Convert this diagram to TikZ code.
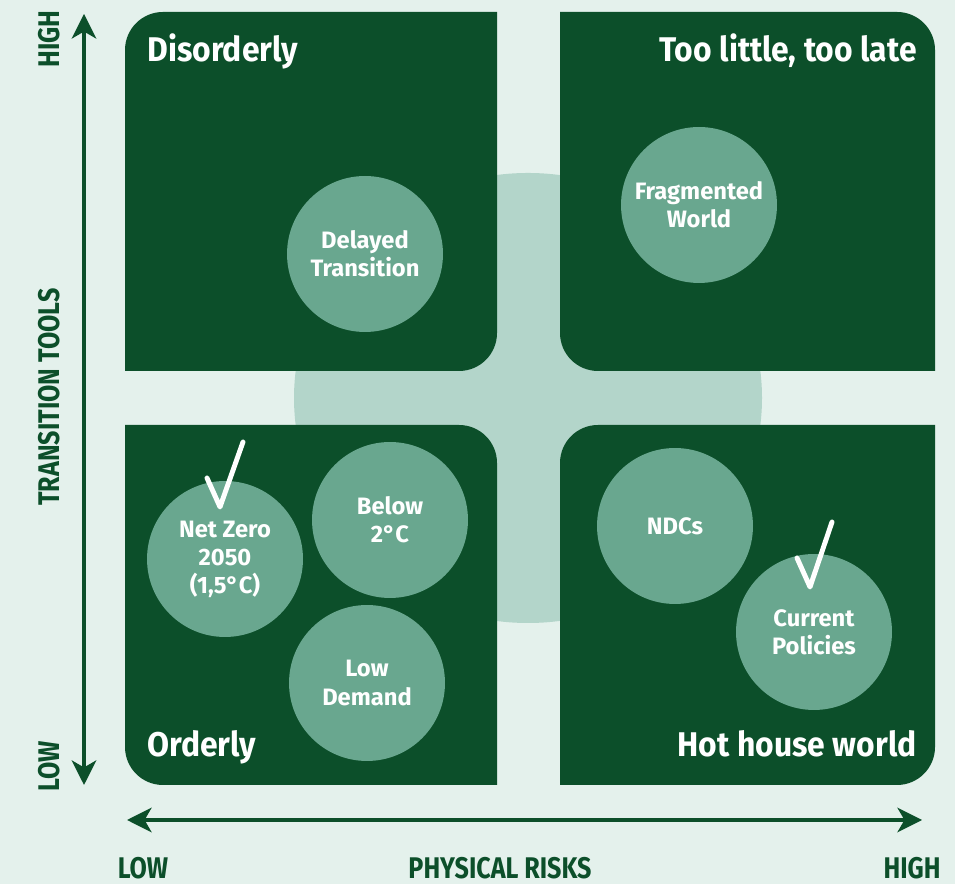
\documentclass[tikz,border=0pt]{standalone}
\usepackage{fontspec}
\setmainfont{Fira Sans}
\newfontfamily\headfont[FakeStretch=0.93]{Fira Sans}
\newfontfamily\axisfont[FakeStretch=0.84]{Fira Sans}
\usetikzlibrary{arrows.meta}
\definecolor{bgmint}{RGB}{228,241,236}
\definecolor{hubmint}{RGB}{179,213,202}
\definecolor{quadgreen}{RGB}{12,79,42}
\definecolor{bubblegreen}{RGB}{105,167,143}
\tikzset{
  quad/.style={fill=quadgreen},
  bubble/.style={circle, fill=bubblegreen, minimum size=3.12cm, inner sep=0pt, text=white, align=center, font=\bfseries\fontsize{13.5}{16}\selectfont},
  heading/.style={text=white, inner sep=0pt, font=\headfont\bfseries\fontsize{19.5}{22}\selectfont},
  axislabel/.style={text=quadgreen, inner sep=0pt, font=\axisfont\bfseries\fontsize{17}{18}\selectfont},
  axis/.style={draw=quadgreen, line width=1.8pt, {Stealth[length=14pt, width=14pt, inset=4pt]}-{Stealth[length=14pt, width=14pt, inset=4pt]}},
  tick/.style={draw=white, line width=2.8pt, line cap=round, line join=round}
}
\begin{document}
\begin{tikzpicture}[x=0.02cm, y=0.02cm]
        \useasboundingbox (0,0) rectangle (955,884);
        \fill[bgmint] (0,0) rectangle (955,884);

        % light hub behind the four quadrants
        \fill[hubmint] (528,486) ellipse [x radius=234, y radius=225];

        % quadrants: outer corner and corner facing the hub are rounded
        \fill[quad] (125,513) -- (125,834) arc[start angle=180, end angle=90, radius=38] -- (497,872) -- (497,551) arc[start angle=0, end angle=-90, radius=38] -- cycle;
        \fill[quad] (560,872) -- (897,872) arc[start angle=90, end angle=0, radius=38] -- (935,513) -- (598,513) arc[start angle=-90, end angle=-180, radius=38] -- cycle;
        \fill[quad] (125,459) -- (125,137) arc[start angle=180, end angle=270, radius=38] -- (497,99) -- (497,421) arc[start angle=0, end angle=90, radius=38] -- cycle;
        \fill[quad] (935,459) -- (935,137) arc[start angle=0, end angle=-90, radius=38] -- (560,99) -- (560,421) arc[start angle=180, end angle=90, radius=38] -- cycle;

        \node[heading, anchor=base west] (disorderly) at (147,822) {Disorderly};
        \node[heading, anchor=base east] (toolate) at (917,822) {Too little, too late};
        \node[heading, anchor=base west] (orderly) at (147,127) {Orderly};
        \node[heading, anchor=base east] (hothouse) at (917,127) {Hot house world};

        % scenarios
        \node[bubble] (delayed) at (365,630) {Delayed\\Transition};
        \node[bubble] (fragmented) at (699,679) {Fragmented\\World};
        \node[bubble] (netzero) at (225,325) {Net Zero\\2050\\(1,5°C)};
        \node[bubble] (below) at (390,364) {Below\\2°C};
        \node[bubble] (lowdemand) at (367,201) {Low\\Demand};
        \node[bubble] (ndcs) at (675,358) {NDCs};
        \node[bubble] (current) at (814,252) {Current\\Policies};

        % ticks on the two chosen scenarios
        \draw[tick] (207,406) -- (220,377) -- (243,442);
        \draw[tick] (797,326) -- (810,297) -- (832,362);

        % axes
        \coordinate (ylow) at (84,99); \coordinate (yhigh) at (84,870);
        \coordinate (xlow) at (127,64); \coordinate (xhigh) at (922,64);
        \draw[axis] (ylow) -- (yhigh);
        \draw[axis] (xlow) -- (xhigh);

        \node[axislabel, rotate=90] (yhighlbl) at (49,845) {HIGH};
        \node[axislabel, rotate=90] (ytitle) at (49,487) {TRANSITION TOOLS};
        \node[axislabel, rotate=90] (ylowlbl) at (49,118) {LOW};
        \node[axislabel] (xlowlbl) at (143,16) {LOW};
        \node[axislabel] (xtitle) at (500,16) {PHYSICAL RISKS};
        \node[axislabel] (xhighlbl) at (912,16) {HIGH};
    \end{tikzpicture}
\end{document}
